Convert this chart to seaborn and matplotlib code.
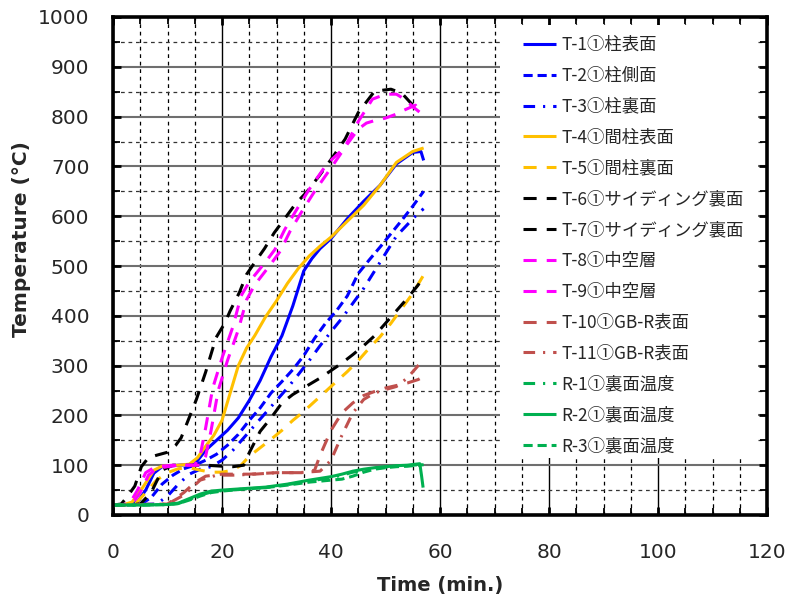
import matplotlib
matplotlib.use("Agg")
import matplotlib.pyplot as plt
import seaborn as sns
import numpy as np
import pandas as pd
from matplotlib.ticker import MultipleLocator
from matplotlib.patches import Rectangle

# ---------------- data ----------------
T1_t = [0, 3, 4.5, 6, 7.5, 9, 12, 15, 17, 19, 21, 23, 25, 27, 29, 31, 33, 35, 36.5, 38, 40, 43, 46, 49, 52, 55, 56.5, 57]
T1_v = [20, 21, 26, 50, 84, 97, 100, 102, 130, 150, 170, 195, 230, 270, 318, 360, 420, 490, 515, 535, 555, 595, 630, 662, 705, 728, 730, 712]

T2_t = [0, 5, 7, 9, 11, 13, 15, 17, 19, 21, 23, 25, 27, 29, 31, 33, 35, 37, 39, 41, 43, 45, 47, 49, 51, 53, 55, 57]
T2_v = [20, 21, 35, 62, 80, 93, 100, 110, 122, 140, 162, 190, 215, 245, 268, 292, 320, 355, 385, 410, 440, 485, 512, 538, 565, 592, 620, 650]

T3_t = [0, 8, 10, 12, 14, 16, 18, 20, 22, 24, 26, 28, 30, 32, 34, 36, 38, 40, 42, 44, 46, 48, 50, 52, 54, 56, 57]
T3_v = [20, 22, 38, 62, 82, 92, 97, 110, 130, 155, 180, 205, 230, 255, 282, 310, 340, 368, 395, 425, 455, 490, 525, 560, 583, 606, 615]

T4_t = [0, 2, 3.5, 5.5, 7.5, 9, 12, 14, 15.5, 17, 18.5, 20, 21.5, 23, 24.5, 26, 28, 30, 32, 34, 36, 38, 40, 43, 46, 49, 52, 55, 57]
T4_v = [20, 21, 26, 56, 90, 98, 100, 102, 115, 138, 160, 190, 245, 300, 335, 360, 398, 430, 465, 495, 520, 540, 558, 590, 622, 662, 708, 730, 737]

T5_t = [0, 4, 6, 8, 10, 12, 14, 16, 18, 20, 22, 23.5, 25, 27, 29, 31, 33, 35, 37, 39, 41, 43, 45, 47, 49, 51, 53, 55, 57]
T5_v = [20, 21, 45, 70, 85, 93, 95, 90, 86, 86, 90, 100, 118, 135, 152, 170, 190, 208, 228, 248, 268, 288, 310, 335, 358, 385, 415, 445, 482]

T6_t = [0, 1.5, 2.5, 4, 5.2, 6.5, 8, 10, 11.5, 12.5, 13.6, 15.3, 17, 18.9, 20.5, 21.5, 23.2, 24.5, 26, 27.8, 29.6, 31.7, 33.5, 35.5, 37.9, 40.4, 42.6, 45, 48, 51, 53, 54.5, 55.3]
T6_v = [20, 22, 35, 58, 97, 115, 120, 126, 140, 155, 185, 232, 287, 356, 385, 410, 447, 483, 507, 535, 567, 598, 625, 648, 682, 720, 755, 808, 851, 855, 847, 829, 820]

T7_t = [0, 5, 7, 9, 11, 14, 17, 20, 22, 24, 25, 27, 29, 31, 33, 36, 38, 40, 42, 44, 46, 48, 50, 52, 54, 56, 57]
T7_v = [20, 22, 45, 90, 100, 100, 100, 98, 97, 100, 125, 168, 195, 225, 242, 262, 275, 290, 305, 322, 340, 360, 385, 410, 435, 462, 480]

T8_t = [0, 3, 4.5, 6, 7.5, 9, 11, 13, 15, 16, 17, 18.3, 20, 22, 23.5, 25, 27.9, 29.7, 31.5, 33.4, 36, 39.2, 42.5, 45, 47.6, 50, 52, 53.5, 55, 56.7]
T8_v = [20, 22, 50, 85, 95, 98, 100, 100, 100, 120, 175, 255, 315, 378, 440, 468, 507, 533, 573, 608, 654, 704, 738, 790, 835, 845, 845, 835, 820, 805]

T9_t = [0, 3.5, 5, 6.5, 8, 10, 12, 14, 16, 17, 18, 19.3, 21, 23, 24.5, 26, 28.9, 30.7, 32.5, 34.4, 37, 40.2, 43, 45, 46.5, 48, 50, 52, 53, 55.5, 56.7]
T9_v = [20, 22, 45, 80, 93, 97, 100, 100, 100, 118, 170, 250, 310, 372, 432, 462, 503, 530, 570, 605, 650, 700, 745, 775, 787, 792, 797, 805, 811, 823, 805]

T10_t = [0, 10, 13, 15, 17, 20, 25, 30, 35, 37, 38, 40, 42, 44, 46, 48, 50, 52, 54, 56, 57]
T10_v = [20, 22, 45, 65, 78, 82, 82, 85, 85, 90, 120, 170, 205, 225, 240, 248, 255, 260, 265, 272, 278]

T11_t = [0, 10, 13, 16, 19, 22, 26, 30, 34, 38, 40, 42, 44, 46, 48, 50, 52, 54, 56, 57]
T11_v = [20, 22, 40, 70, 80, 80, 82, 85, 85, 88, 110, 160, 205, 232, 245, 252, 258, 275, 300, 310]

R1_t = [0, 5, 10, 12, 14, 16, 18, 20, 24, 28, 32, 36, 40, 42, 44, 46, 48, 50, 52, 54, 56, 57]
R1_v = [20, 20, 21, 23, 31, 40, 46, 49, 52, 55, 61, 68, 75, 80, 86, 90, 94, 96, 98, 99, 101, 102]

R2_t = [0, 5, 10, 12, 14, 16, 18, 20, 24, 28, 32, 36, 40, 42, 44, 46, 48, 50, 52, 54, 56.3, 56.6, 56.9]
R2_v = [20, 20, 21, 24, 33, 42, 48, 50, 53, 56, 62, 70, 77, 82, 88, 92, 95, 97, 99, 100, 103, 80, 55]

R3_t = [0, 5, 10, 12, 14, 16, 18, 20, 24, 28, 32, 36, 40, 42, 44, 46, 48, 50, 52, 54, 56, 57]
R3_v = [20, 20, 21, 23, 30, 38, 45, 48, 52, 55, 60, 66, 70, 72, 78, 86, 92, 95, 97, 98, 100, 101]

labels = ["T-1①柱表面", "T-2①柱側面", "T-3①柱裏面", "T-4①間柱表面", "T-5①間柱裏面",
          "T-6①サイディング裏面", "T-7①サイディング裏面", "T-8①中空層", "T-9①中空層",
          "T-10①GB-R表面", "T-11①GB-R表面", "R-1①裏面温度", "R-2①裏面温度", "R-3①裏面温度"]
series = [(T1_t, T1_v), (T2_t, T2_v), (T3_t, T3_v), (T4_t, T4_v), (T5_t, T5_v),
          (T6_t, T6_v), (T7_t, T7_v), (T8_t, T8_v), (T9_t, T9_v),
          (T10_t, T10_v), (T11_t, T11_v), (R1_t, R1_v), (R2_t, R2_v), (R3_t, R3_v)]

x_ticks = [0, 20, 40, 60, 80, 100, 120]
y_ticks = [0, 100, 200, 300, 400, 500, 600, 700, 800, 900, 1000]

# ---------------- styles ----------------
BLUE, ORANGE, BLACK, MAG, BROWN, GREEN = "#0000FF", "#FFC000", "#000000", "#FF00FF", "#C0504D", "#00B050"
SOLID = None
SHORT = (3.0, 1.6)
LONG = (4.3, 3.3)
DASHDOT = (3.8, 2.6, 0.7, 2.6)
styles = [(BLUE, SOLID), (BLUE, SHORT), (BLUE, DASHDOT), (ORANGE, SOLID), (ORANGE, LONG),
          (BLACK, LONG), (BLACK, LONG), (MAG, LONG), (MAG, LONG),
          (BROWN, LONG), (BROWN, DASHDOT), (GREEN, DASHDOT), (GREEN, SOLID), (GREEN, SHORT)]

sns.set_style("ticks")
plt.rcParams["font.family"] = ["DejaVu Sans"]

fig = plt.figure(figsize=(7.9, 6.01), dpi=100)
ax = fig.add_axes([113 / 790, 1 - 515 / 601, (767 - 113) / 790, (515 - 17) / 601])

LW = 2.2
for (tt, vv), lab, (col, ds) in zip(series, labels, styles):
    df = pd.DataFrame({"t": tt, "v": vv})
    sns.lineplot(data=df, x="t", y="v", ax=ax, color=col, linewidth=LW, label=lab,
                 sort=False, estimator=None)
    ln = ax.get_lines()[-1]
    if ds is not None:
        ln.set_dashes(ds)
    ln.set_solid_capstyle("butt")
    ln.set_dash_capstyle("butt")

ax.set_xlim(0, 120)
ax.set_ylim(0, 1000)
ax.set_xticks(x_ticks)
ax.set_yticks(y_ticks)
ax.xaxis.set_minor_locator(MultipleLocator(5))
ax.yaxis.set_minor_locator(MultipleLocator(50))

ax.xaxis.grid(True, which="major", color="#000000", linewidth=1.0, linestyle="-")
ax.yaxis.grid(True, which="major", color="#6f6f6f", linewidth=1.5, linestyle="-")
ax.xaxis.grid(True, which="minor", color="#000000", linewidth=0.9, linestyle=(0, (3, 3)))
ax.yaxis.grid(True, which="minor", color="#333333", linewidth=0.9, linestyle=(0, (3, 3)))
ax.set_axisbelow(True)

for sp in ax.spines.values():
    sp.set_visible(True)
    sp.set_linewidth(2.6)
    sp.set_color("black")

ax.tick_params(which="both", direction="in", top=True, right=True, color="black")
ax.tick_params(which="major", length=6, width=2.0, labelsize=14.5)
ax.tick_params(axis="x", which="major", pad=20)
ax.tick_params(axis="y", which="major", pad=17)
ax.tick_params(which="minor", length=5, width=1.3)

ax.set_xlabel("Time (min.)", fontsize=14, fontweight="bold", labelpad=10)
ax.set_ylabel("Temperature (°C)", fontsize=14.5, fontweight="bold")
ax.yaxis.set_label_coords(-0.125, 0.555)

# white legend area
ax.add_patch(Rectangle(((500 - 113) / 654, (515 - 458) / 498), (758 - 500) / 654, (458 - 25) / 498,
                       transform=ax.transAxes, facecolor="white", edgecolor="none", zorder=4))

leg = ax.legend(loc="upper left", bbox_to_anchor=(523 / 790, 1 - 36 / 601), bbox_transform=fig.transFigure,
                frameon=False, borderpad=0, borderaxespad=0, handlelength=1.9, handletextpad=0.3,
                labelspacing=0.74, prop={"family": ["Noto Sans CJK JP", "DejaVu Sans"], "size": 12.5})
leg.set_zorder(5)

fig.savefig("out.png", dpi=100)
